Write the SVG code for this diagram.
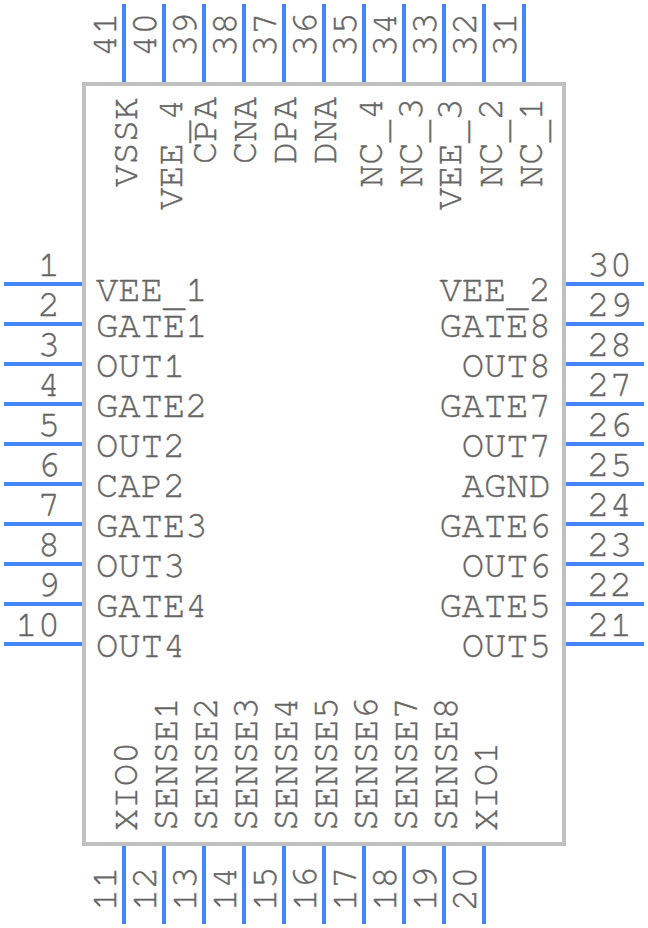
<svg xmlns="http://www.w3.org/2000/svg" width="648" height="928" viewBox="0 0 648 928">
<style>
text{font-family:FreeMono,"Liberation Mono",monospace;font-size:37.2px;fill:#666;stroke:#666;stroke-width:.4px}
.e{text-anchor:end}
.p{stroke:#4287f5;stroke-width:4;fill:none}
.b{stroke:#c0c0c0;stroke-width:4;fill:none}
</style>
<rect width="648" height="928" fill="#fff"/>
<g id="connectors">
<path class="p" d="M4 284H82M4 324H82M4 364H82M4 404H82M4 444H82M4 484H82M4 524H82M4 564H82M4 604H82M4 644H82"/>
<path class="p" d="M566 284H644M566 324H644M566 364H644M566 404H644M566 444H644M566 484H644M566 524H644M566 564H644M566 604H644M566 644H644"/>
<path class="p" d="M124 4V82M164 4V82M204 4V82M244 4V82M284 4V82M324 4V82M364 4V82M404 4V82M444 4V82M484 4V82M524 4V82"/>
<path class="p" d="M124 846V924M164 846V924M204 846V924M244 846V924M284 846V924M324 846V924M364 846V924M404 846V924M444 846V924M484 846V924"/>
</g>
<g id="body"><rect class="b" x="84" y="84" width="480" height="760"/></g>
<g id="pin-numbers-left">
<text x="60" y="275.500" class="e">1</text><text x="60" y="315.500" class="e">2</text><text x="60" y="355.500" class="e">3</text><text x="60" y="395.500" class="e">4</text><text x="60" y="435.500" class="e">5</text><text x="60" y="475.500" class="e">6</text><text x="60" y="515.500" class="e">7</text><text x="60" y="555.500" class="e">8</text><text x="60" y="595.500" class="e">9</text><text x="60" y="635.500" class="e">10</text>
</g>
<g id="pin-numbers-right">
<text x="632" y="275.500" class="e">30</text><text x="632" y="315.500" class="e">29</text><text x="632" y="355.500" class="e">28</text><text x="632" y="395.500" class="e">27</text><text x="632" y="435.500" class="e">26</text><text x="632" y="475.500" class="e">25</text><text x="632" y="515.500" class="e">24</text><text x="632" y="555.500" class="e">23</text><text x="632" y="595.500" class="e">22</text><text x="632" y="635.500" class="e">21</text>
</g>
<g id="labels-left">
<text x="96" y="301">VEE<tspan dy="5">_</tspan><tspan dy="-5">1</tspan></text><text x="96" y="337">GATE1</text><text x="96" y="377">OUT1</text><text x="96" y="417">GATE2</text><text x="96" y="457">OUT2</text><text x="96" y="497">CAP2</text><text x="96" y="537">GATE3</text><text x="96" y="577">OUT3</text><text x="96" y="617">GATE4</text><text x="96" y="657">OUT4</text>
</g>
<g id="labels-right">
<text x="551" y="301" class="e">VEE<tspan dy="5">_</tspan><tspan dy="-5">2</tspan></text><text x="551" y="337" class="e">GATE8</text><text x="551" y="377" class="e">OUT8</text><text x="551" y="417" class="e">GATE7</text><text x="551" y="457" class="e">OUT7</text><text x="551" y="497" class="e">AGND</text><text x="551" y="537" class="e">GATE6</text><text x="551" y="577" class="e">OUT6</text><text x="551" y="617" class="e">GATE5</text><text x="551" y="657" class="e">OUT5</text>
</g>
<g id="pin-numbers-top">
<text transform="translate(115.500 57) rotate(-90)">41</text><text transform="translate(155.500 57) rotate(-90)">40</text><text transform="translate(195.500 57) rotate(-90)">39</text><text transform="translate(235.500 57) rotate(-90)">38</text><text transform="translate(275.500 57) rotate(-90)">37</text><text transform="translate(315.500 57) rotate(-90)">36</text><text transform="translate(355.500 57) rotate(-90)">35</text><text transform="translate(395.500 57) rotate(-90)">34</text><text transform="translate(435.500 57) rotate(-90)">33</text><text transform="translate(475.500 57) rotate(-90)">32</text><text transform="translate(515.500 57) rotate(-90)">31</text>
</g>
<g id="pin-numbers-bottom">
<text transform="translate(115.500 911) rotate(-90)">11</text><text transform="translate(155.500 911) rotate(-90)">12</text><text transform="translate(195.500 911) rotate(-90)">13</text><text transform="translate(235.500 911) rotate(-90)">14</text><text transform="translate(275.500 911) rotate(-90)">15</text><text transform="translate(315.500 911) rotate(-90)">16</text><text transform="translate(355.500 911) rotate(-90)">17</text><text transform="translate(395.500 911) rotate(-90)">18</text><text transform="translate(435.500 911) rotate(-90)">19</text><text transform="translate(475.500 911) rotate(-90)">20</text>
</g>
<g id="labels-top">
<text transform="translate(136.500 187) rotate(-90)">VSSK</text><text transform="translate(181.500 210) rotate(-90)">VEE<tspan dy="5">_</tspan><tspan dy="-5">4</tspan></text><text transform="translate(216 164) rotate(-90)">CPA</text><text transform="translate(256 164) rotate(-90)">CNA</text><text transform="translate(296 164) rotate(-90)">DPA</text><text transform="translate(336 164) rotate(-90)">DNA</text><text transform="translate(381.500 187) rotate(-90)">NC<tspan dy="5">_</tspan><tspan dy="-5">4</tspan></text><text transform="translate(421.500 187) rotate(-90)">NC<tspan dy="5">_</tspan><tspan dy="-5">3</tspan></text><text transform="translate(461 210) rotate(-90)">VEE<tspan dy="5">_</tspan><tspan dy="-5">3</tspan></text><text transform="translate(501.500 187) rotate(-90)">NC<tspan dy="5">_</tspan><tspan dy="-5">2</tspan></text><text transform="translate(541.500 187) rotate(-90)">NC<tspan dy="5">_</tspan><tspan dy="-5">1</tspan></text>
</g>
<g id="labels-bottom">
<text transform="translate(136.500 831) rotate(-90)">XIO0</text><text transform="translate(176.500 831) rotate(-90)">SENSE1</text><text transform="translate(216.500 831) rotate(-90)">SENSE2</text><text transform="translate(256.500 831) rotate(-90)">SENSE3</text><text transform="translate(296.500 831) rotate(-90)">SENSE4</text><text transform="translate(336.500 831) rotate(-90)">SENSE5</text><text transform="translate(376.500 831) rotate(-90)">SENSE6</text><text transform="translate(416.500 831) rotate(-90)">SENSE7</text><text transform="translate(456.500 831) rotate(-90)">SENSE8</text><text transform="translate(496.500 831) rotate(-90)">XIO1</text>
</g>
</svg>
